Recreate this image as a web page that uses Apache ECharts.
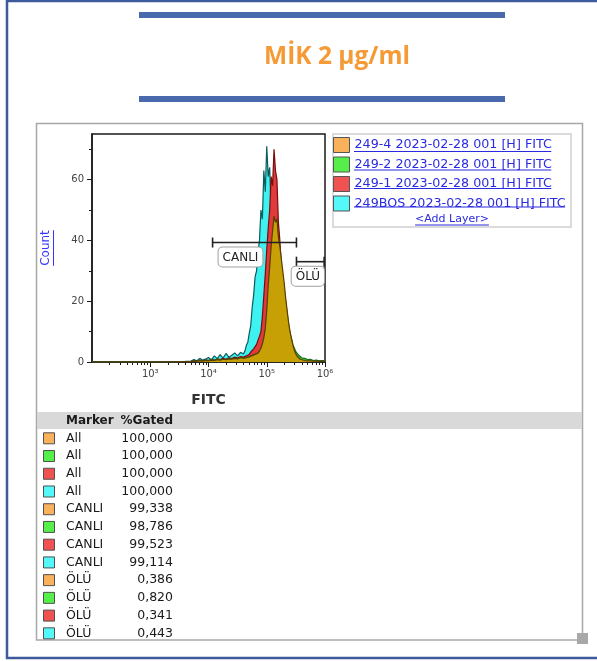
<!DOCTYPE html>
<html><head><meta charset="utf-8">
<script src="https://cdn.jsdelivr.net/npm/echarts@6/dist/echarts.min.js"></script>
<style>html,body{margin:0;padding:0;background:#fff}#c{width:597px;height:661px}</style>
</head><body><div id="c"></div>
<script>
// ---------- DATA ----------
const titleText = 'MİK 2 µg/ml';
// histogram bin positions (log10 of FITC)
const binExp = [
  2.0, 2.2, 2.4, 2.6, 2.8, 3.0, 3.2, 3.4, 3.6,
  3.7, 3.75, 3.8, 3.85, 3.9, 3.95, 4.0, 4.05, 4.1, 4.15, 4.2, 4.25, 4.3, 4.35, 4.4, 4.45, 4.5, 4.55, 4.6,
  4.625, 4.65, 4.675, 4.7, 4.725, 4.75, 4.775, 4.8, 4.825, 4.85, 4.875, 4.9, 4.925, 4.95, 4.975, 5.0,
  5.025, 5.05, 5.075, 5.1, 5.125, 5.15, 5.175, 5.2, 5.225, 5.25, 5.275, 5.3, 5.325, 5.35, 5.375, 5.4,
  5.425, 5.45, 5.475, 5.5, 5.525, 5.55, 5.575, 5.6,
  5.65, 5.7, 5.75, 5.8, 5.85, 5.9, 5.95, 6.0
];
const countsBOS = [
  0, 0, 0, 0, 0, 0.1, 0, 0.1, 0.2,
  0.3, 0.8, 0.4, 1.2, 0.6, 1.0, 1.5, 0.7, 2.0, 1.1, 2.4, 1.3, 2.8, 1.6, 2.2, 3.0, 2.0, 3.2, 2.6,
  3.6, 5.5, 6.5, 9.5, 12, 18, 22, 28, 30, 36, 40, 50, 47, 63, 56, 71,
  61, 64, 50, 46, 35, 30, 22, 18, 13, 11, 8, 6.5, 4.5, 4, 2.8, 2.5,
  1.6, 1.5, 1.0, 1.1, 0.6, 0.8, 0.4, 0.7,
  0.4, 0.6, 0.3, 0.5, 0.3, 0.4, 0.2, 0.5
];
const counts249_1 = [
  0, 0, 0, 0, 0, 0, 0, 0.1, 0.1,
  0.2, 0.4, 0.3, 0.6, 0.4, 0.7, 0.5, 0.9, 0.6, 1.0, 0.8, 1.2, 0.9, 1.4, 1.1, 1.6, 1.3, 1.8, 1.6,
  2.2, 2.0, 2.6, 2.5, 3.3, 3.4, 4.3, 4.6, 5.8, 6.3, 8.5, 10, 15, 22, 29, 37,
  44, 50, 61, 58, 70, 63, 60, 46, 40, 32, 28, 21, 17, 12, 9.5, 6.5,
  5, 3.2, 2.6, 1.5, 1.2, 0.8, 0.7, 0.4,
  0.5, 0.3, 0.4, 0.2, 0.3, 0.1, 0.3, 0.2
];
const counts249_2 = [
  0, 0, 0, 0, 0, 0, 0, 0, 0.1,
  0.2, 0.3, 0.3, 0.5, 0.4, 0.6, 0.5, 0.7, 0.6, 0.8, 0.7, 0.9, 0.8, 1.1, 0.9, 1.2, 1.1, 1.4, 1.3,
  1.5, 1.4, 1.7, 1.7, 2.0, 2.1, 2.4, 2.5, 2.8, 2.9, 3.3, 4.2, 5.5, 7.5, 10, 15,
  22, 29, 35, 40, 44, 43, 44, 39, 36, 32, 28, 24, 20, 16, 12.5, 9.5,
  7.8, 5.6, 4.5, 3.4, 2.9, 2.2, 1.9, 1.4,
  1.2, 0.8, 0.9, 0.5, 0.6, 0.4, 0.5, 0.3
];
const counts249_4 = [
  0, 0, 0, 0, 0, 0, 0, 0, 0.1,
  0.1, 0.3, 0.2, 0.4, 0.3, 0.5, 0.4, 0.6, 0.5, 0.8, 0.6, 0.9, 0.8, 1.0, 0.9, 1.2, 1.0, 1.4, 1.2,
  1.6, 1.4, 1.8, 1.7, 2.2, 2.1, 2.6, 2.5, 3.0, 2.9, 3.6, 4.5, 6, 8, 11, 17,
  25, 31, 38, 43, 48, 46, 47, 41, 38, 34, 30, 26, 21, 17, 13, 10,
  7.5, 5.5, 3.8, 2.6, 1.8, 1.2, 0.9, 0.7,
  0.5, 0.4, 0.4, 0.3, 0.3, 0.2, 0.3, 0.2
];
// layers in legend order
const layerNames = ['249-4 2023-02-28 001 [H] FITC', '249-2 2023-02-28 001 [H] FITC', '249-1 2023-02-28 001 [H] FITC', '249BOS 2023-02-28 001 [H] FITC'];
const layerCounts = [counts249_4, counts249_2, counts249_1, countsBOS];
const layerKeyColor = ['#f9b15c', '#55ee4a', '#f05252', '#55f8f8'];
const layerFill = ['#c6a004', '#3cd03c', '#e03a3a', '#3ff2f2'];
const layerLine = ['#5a3e00', '#1f6b1f', '#7a0c0c', '#0b5c5c'];
const drawOrder = [3, 2, 1, 0];
// gates
const gateNames = ['CANLI', 'ÖLÜ'];
const gateFromExp = [4.07, 5.51];
const gateToExp = [5.51, 5.985];
const gateLevel = [39.3, 33];
// axis ticks
const xMajorTicks = [1e3, 1e4, 1e5, 1e6];
const xMinorTicks = [200,300,400,500,600,700,800,900, 2000,3000,4000,5000,6000,7000,8000,9000,
  20000,30000,40000,50000,60000,70000,80000,90000, 200000,300000,400000,500000,600000,700000,800000,900000];
const yMajorTicks = [0, 20, 40, 60];
const yMinorTicks = [10, 30, 50, 70];
// statistics table
const tableMarker = ['All','All','All','All','CANLI','CANLI','CANLI','CANLI','ÖLÜ','ÖLÜ','ÖLÜ','ÖLÜ'];
const tableLayer = [0,1,2,3,0,1,2,3,0,1,2,3];
const tableGated = ['100,000','100,000','100,000','100,000','99,338','98,786','99,523','99,114','0,386','0,820','0,341','0,443'];

// ---------- RENDER ----------
const FF = '"DejaVu Sans", Verdana, sans-serif';
const mctx = document.createElement('canvas').getContext('2d');
function textW(s, font) { mctx.font = font; return mctx.measureText(s).width; }
const supMap = {2:'²',3:'³',4:'⁴',5:'⁵',6:'⁶'};
const chart = echarts.init(document.getElementById('c'), null, {renderer: 'canvas'});

const gridL = 92, gridT = 134, gridW = 233, gridH = 228;
const series = drawOrder.map((li, k) => ({
  type: 'line', name: layerNames[li], xAxisIndex: 0, yAxisIndex: 0,
  data: binExp.map((e, i) => [Math.pow(10, e), layerCounts[li][i]]),
  symbol: 'none', smooth: false, silent: true, z: 2 + k,
  lineStyle: {color: layerLine[li], width: 1.2},
  areaStyle: {color: layerFill[li], opacity: 1},
  itemStyle: {color: layerKeyColor[li]},
  emphasis: {disabled: true}
}));

const labelFont = '12px ' + FF;
series.push({
  type: 'custom', xAxisIndex: 0, yAxisIndex: 0, clip: false, silent: true, z: 20,
  encode: {x: [0, 1], y: 2},
  data: gateNames.map((n, i) => [Math.pow(10, gateFromExp[i]), Math.pow(10, gateToExp[i]), gateLevel[i]]),
  renderItem(params, api) {
    const a = api.coord([api.value(0), api.value(2)]);
    const b = api.coord([api.value(1), api.value(2)]);
    const plotRight = api.coord([1e6, 0])[0];
    const name = gateNames[params.dataIndex];
    const w = textW(name, labelFont) + 8;
    const lx = Math.min(a[0] + 6, plotRight - w - 1);
    const st = {stroke: '#222', lineWidth: 1.6};
    return {type: 'group', children: [
      {type: 'line', shape: {x1: a[0], y1: a[1], x2: b[0], y2: b[1]}, style: st},
      {type: 'line', shape: {x1: a[0], y1: a[1] - 5, x2: a[0], y2: a[1] + 5}, style: st},
      {type: 'line', shape: {x1: b[0], y1: b[1] - 5, x2: b[0], y2: b[1] + 5}, style: st},
      {type: 'text', x: lx, y: a[1] + 5, style: {text: name, font: labelFont, fill: '#222',
        backgroundColor: '#fff', borderColor: '#a0a0a0', borderWidth: 1, borderRadius: 4,
        padding: [4, 4, 3, 4], align: 'left', verticalAlign: 'top'}}
    ]};
  }
});

// graphics: page frame, title, panel, legend box, underlines, table
const graphic = [];
graphic.push({type: 'rect', shape: {x: 7, y: 1, width: 620, height: 657}, style: {fill: 'none', stroke: '#3d5b9c', lineWidth: 2.5}, z: 0});
graphic.push({type: 'rect', shape: {x: 139, y: 12, width: 366, height: 6}, style: {fill: '#4a69ad'}});
graphic.push({type: 'rect', shape: {x: 139, y: 96, width: 366, height: 6}, style: {fill: '#4a69ad'}});
graphic.push({type: 'text', x: 337, y: 57, style: {text: titleText, font: 'bold 24.5px "Open Sans", sans-serif', fill: '#f59a35', align: 'center', verticalAlign: 'middle'}});
graphic.push({type: 'rect', shape: {x: 36.5, y: 123.5, width: 546, height: 516.5}, style: {fill: 'none', stroke: '#a8a8a8', lineWidth: 1.5}, z: 0});
graphic.push({type: 'rect', shape: {x: 577, y: 633, width: 11, height: 11}, style: {fill: '#a8a8a8'}});
// legend box
graphic.push({type: 'rect', shape: {x: 333, y: 134, width: 238, height: 93}, style: {fill: 'none', stroke: '#d0d0d0', lineWidth: 1.5}, z: 0});
const legFontSize = 12.7;
const legFont = legFontSize + 'px ' + FF;
layerNames.forEach((n, i) => {
  const y = 137 + 7.5 + i * 18.5 + 7;
  graphic.push({type: 'line', shape: {x1: 354, y1: y, x2: 354 + textW(n, legFont), y2: y}, style: {stroke: '#2a2ae0', lineWidth: 1}});
});
const addFont = '11px ' + FF;
const addW = textW('<Add Layer>', addFont);
graphic.push({type: 'text', x: 452, y: 219, style: {text: '<Add Layer>', font: addFont, fill: '#2a2ae0', align: 'center', verticalAlign: 'middle'}});
graphic.push({type: 'line', shape: {x1: 452 - addW / 2, y1: 225, x2: 452 + addW / 2, y2: 225}, style: {stroke: '#2a2ae0', lineWidth: 1}});
// Count underline
const cntW = textW('Count', '12px ' + FF);
graphic.push({type: 'line', shape: {x1: 53.5, y1: 248 - cntW / 2, x2: 53.5, y2: 248 + cntW / 2}, style: {stroke: '#3535ff', lineWidth: 1}});
// table
graphic.push({type: 'rect', shape: {x: 37, y: 412, width: 545, height: 17}, style: {fill: '#d9d9d9'}});
graphic.push({type: 'text', x: 66, y: 421, style: {text: 'Marker', font: 'bold 12px ' + FF, fill: '#1a1a1a', align: 'left', verticalAlign: 'middle'}});
graphic.push({type: 'text', x: 173, y: 421, style: {text: '%Gated', font: 'bold 12px ' + FF, fill: '#1a1a1a', align: 'right', verticalAlign: 'middle'}});
tableMarker.forEach((m, i) => {
  const cy = 438.3 + i * 17.73;
  graphic.push({type: 'rect', shape: {x: 43.5, y: cy - 5.5, width: 11, height: 11}, style: {fill: layerKeyColor[tableLayer[i]], stroke: '#505050', lineWidth: 1}});
  graphic.push({type: 'text', x: 66, y: cy, style: {text: m, font: '12.5px ' + FF, fill: '#1a1a1a', align: 'left', verticalAlign: 'middle'}});
  graphic.push({type: 'text', x: 173, y: cy, style: {text: tableGated[i], font: '12.5px ' + FF, fill: '#1a1a1a', align: 'right', verticalAlign: 'middle'}});
});

const option = {
  animation: false,
  backgroundColor: '#fff',
  grid: {left: gridL, top: gridT, width: gridW, height: gridH, show: true, borderColor: '#1a1a1a', borderWidth: 1.5, backgroundColor: 'transparent'},
  legend: {
    orient: 'vertical', left: 333, top: 137, padding: 0, itemWidth: 16, itemHeight: 15, itemGap: 3.5,
    selectedMode: false,
    textStyle: {fontSize: legFontSize, fontFamily: FF, color: '#2a2ae0', lineHeight: 15},
    data: layerNames.map((n, i) => ({name: n, icon: 'rect', itemStyle: {color: layerKeyColor[i], borderColor: '#555', borderWidth: 1}}))
  },
  xAxis: [{
    type: 'log', logBase: 10, min: 100, max: 1e6, gridIndex: 0, position: 'bottom',
    name: 'FITC', nameLocation: 'middle', nameGap: 31,
    nameTextStyle: {color: '#333', fontSize: 14, fontWeight: 'bold', fontFamily: FF},
    axisLine: {show: true, onZero: false, lineStyle: {color: '#1a1a1a', width: 1.5}},
    axisTick: {show: true, length: 5, customValues: xMajorTicks, lineStyle: {color: '#1a1a1a', width: 1}},
    axisLabel: {customValues: xMajorTicks, fontSize: 10, fontFamily: FF, color: '#444', margin: 7,
      formatter: v => '10' + supMap[Math.round(Math.log10(v))]},
    splitLine: {show: false}, minorTick: {show: false}
  }, {
    type: 'log', logBase: 10, min: 100, max: 1e6, gridIndex: 0, position: 'bottom',
    axisLine: {show: false}, axisLabel: {show: false}, splitLine: {show: false},
    axisTick: {show: true, length: 3, customValues: xMinorTicks, lineStyle: {color: '#1a1a1a', width: 1}}
  }],
  yAxis: [{
    type: 'value', min: 0, max: 75, gridIndex: 0, position: 'left',
    name: 'Count', nameLocation: 'middle', nameGap: 40,
    nameTextStyle: {color: '#3535ff', fontSize: 12, fontFamily: FF},
    axisLine: {show: true, onZero: false, lineStyle: {color: '#1a1a1a', width: 1.5}},
    axisTick: {show: true, length: 5, customValues: yMajorTicks, lineStyle: {color: '#1a1a1a', width: 1}},
    axisLabel: {customValues: yMajorTicks, fontSize: 10, fontFamily: FF, color: '#444', margin: 8},
    splitLine: {show: false}
  }, {
    type: 'value', min: 0, max: 75, gridIndex: 0, position: 'left',
    axisLine: {show: false}, axisLabel: {show: false}, splitLine: {show: false},
    axisTick: {show: true, length: 3, customValues: yMinorTicks, lineStyle: {color: '#1a1a1a', width: 1}}
  }],
  series: series,
  graphic: graphic
};
chart.setOption(option);
</script></body></html>
